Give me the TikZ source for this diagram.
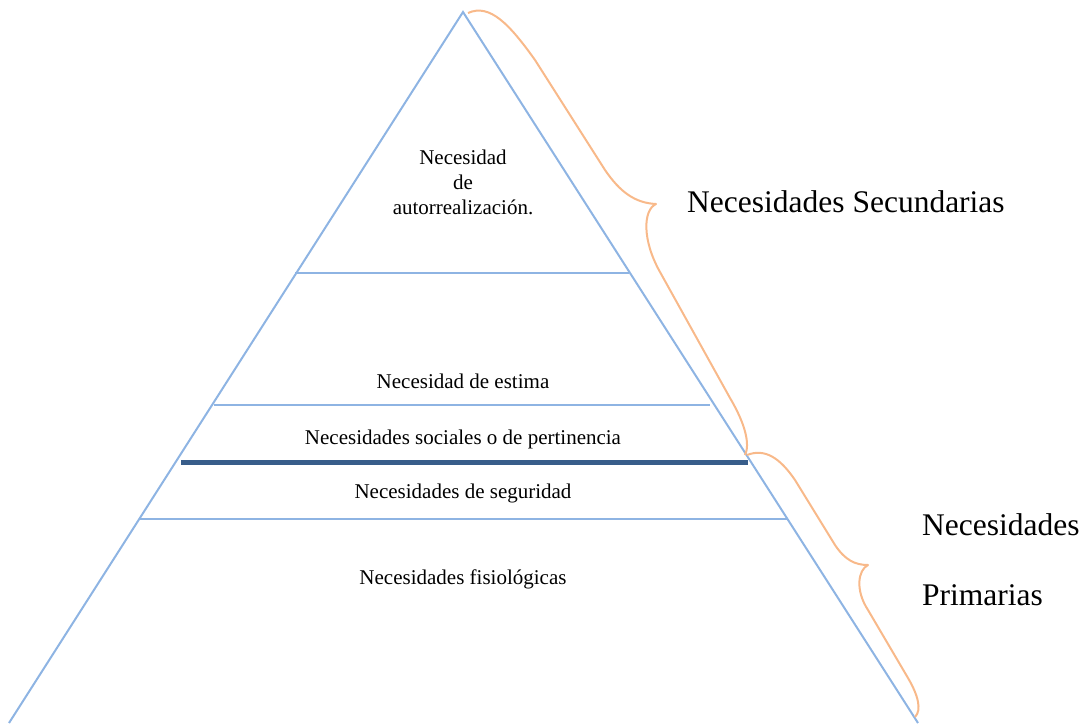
\documentclass[tikz,border=0pt]{standalone}
\usepackage{fontspec}
\setmainfont{Liberation Serif}
\usepackage{tikz}
\usepackage{xcolor}
\usetikzlibrary{positioning}
\definecolor{azulclaro}{RGB}{142,180,227}
\definecolor{azuloscuro}{RGB}{56,93,138}
\definecolor{naranja}{RGB}{248,185,138}
\tikzset{
  lado/.style={line width=2pt, color=azulclaro},
  nivel/.style={font=\fontsize{21}{25}\selectfont, inner sep=0pt, anchor=base},
  grupo/.style={font=\fontsize{31.5}{70}\selectfont, inner sep=0pt, anchor=base west, align=left},
  llave/.style={line width=2pt, color=naranja, line join=round}
}

\begin{document}
\begin{tikzpicture}[x=1pt,y=-1pt]
     \useasboundingbox (0,0) rectangle (1086,723);
     \coordinate (cima) at (463,12);
     \coordinate (baseizq) at (9,723);
     \coordinate (baseder) at (918,723);
     \draw[lado] (baseizq) -- (cima) -- (baseder); %sides of the pyramid
     %
     \draw[lado] (295,273) -- (629,273);
     \draw[lado] (214,405) -- (710,405);
     \draw[line width=5pt, color=azuloscuro] (181,462) -- (748,462);
     \draw[lado] (140,519) -- (787,519);
     %
     \node[nivel, align=center] (autorrealizacion) at (463,214) {Necesidad\\de\\autorrealización.}; %base = last line
     \node[nivel] (estima) at (463,388) {Necesidad de estima};
     \node[nivel] (sociales) at (463,444) {Necesidades sociales o de pertinencia};
     \node[nivel] (seguridad) at (463,498) {Necesidades de seguridad};
     \node[nivel] (fisiologicas) at (463,584) {Necesidades fisiológicas};
     %
     \draw[llave] (468,13) .. controls (490,3) and (510,25) .. (535,60) -- (605,170)
       .. controls (620,192) and (635,203) .. (656,204)
       .. controls (643,210) and (642,240) .. (660,272) -- (730,398)
       .. controls (746,425) and (750,445) .. (745,455);
     \draw[llave] (747,455) .. controls (765,448) and (780,458) .. (795,480) -- (835,545)
       .. controls (845,560) and (855,565) .. (868,565)
       .. controls (858,570) and (855,590) .. (868,610) -- (908,678)
       .. controls (918,695) and (922,710) .. (915,717);
     %
     \node[grupo] (secundarias) at (687,212) {Necesidades Secundarias};
     \node[grupo] (primarias) at (922,605) {Necesidades\\Primarias};
\end{tikzpicture}
\end{document}
